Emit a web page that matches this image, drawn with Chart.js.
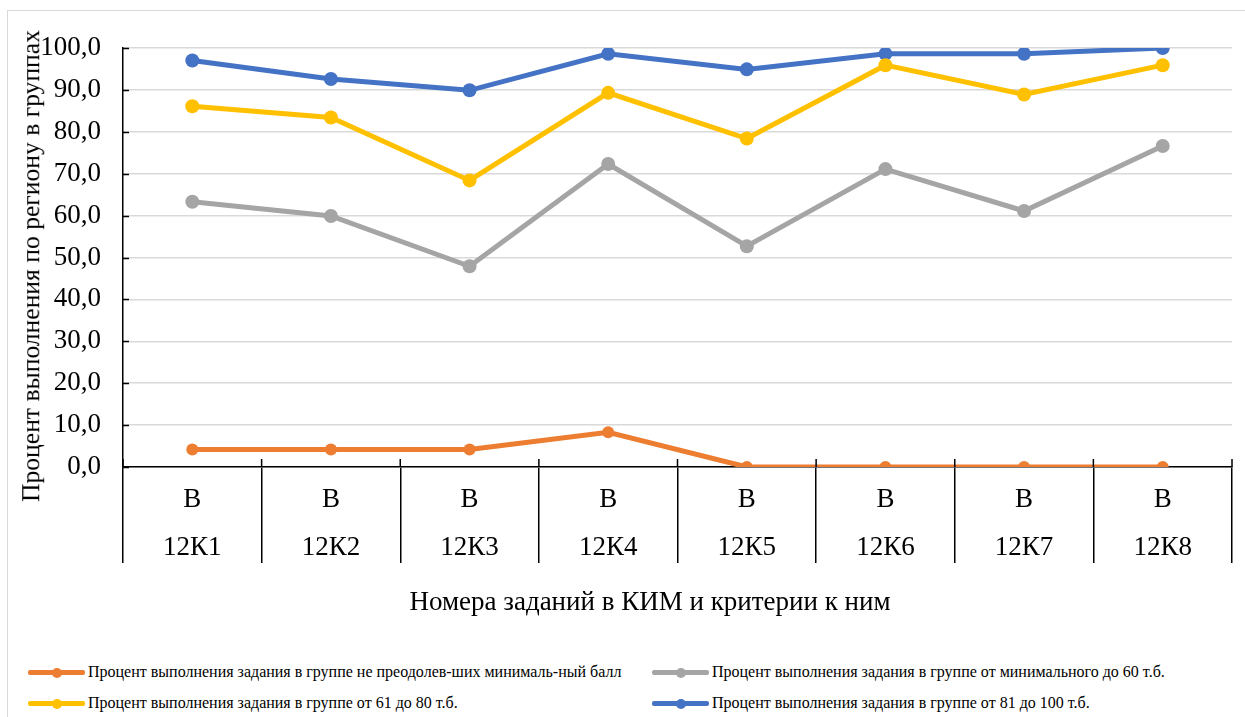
<!DOCTYPE html>
<html>
<head>
<meta charset="utf-8">
<script src="https://cdn.jsdelivr.net/npm/chart.js@4"></script>
<style>
  body { margin: 0; background: #fff; font-family: "Liberation Serif", serif; color: #000; }
  #frame { position: absolute; left: 7px; top: 10px; width: 1245px; height: 720px; border: 1px solid #d9d9d9; box-sizing: border-box; }
  #wrap { position: absolute; left: 0; top: 0; width: 1245px; height: 625px; }
  .axisTitle { position: absolute; white-space: nowrap; transform: translate(-50%, -50%); line-height: 1; }
  #xTitle { left: 650px; top: 601px; font-size: 27px; }
  #yTitle { left: 31px; top: 266px; font-size: 25.6px; transform: translate(-50%, -50%) rotate(-90deg); }
  #legend { position: absolute; left: 0; top: 660px; width: 1245px; font-size: 16px; }
  .item { position: absolute; height: 20px; line-height: 20px; white-space: nowrap; }
  .swatch { position: absolute; left: 0; top: 8px; width: 57px; height: 5px; border-radius: 2px; }
  .dot { position: absolute; left: 24px; top: -2.5px; width: 10px; height: 10px; border-radius: 50%; }
  .txt { position: absolute; left: 60px; top: 0; }
</style>
</head>
<body>
<div id="frame"></div>
<div id="wrap"><canvas id="myChart"></canvas></div>
<div id="xTitle" class="axisTitle"></div>
<div id="yTitle" class="axisTitle"></div>
<div id="legend"></div>
<script>
// categories: two lines per label
const tasks = ['12К1', '12К2', '12К3', '12К4', '12К5', '12К6', '12К7', '12К8'];
const level = ['В', 'В', 'В', 'В', 'В', 'В', 'В', 'В'];

const notPassed = [4.2, 4.2, 4.2, 8.3, 0, 0, 0, 0];
const minTo60 = [63.3, 59.9, 47.9, 72.3, 52.7, 71.1, 61.1, 76.6];
const from61to80 = [86.1, 83.4, 68.4, 89.3, 78.4, 95.9, 88.9, 95.9];
const from81to100 = [97.0, 92.6, 89.9, 98.6, 94.9, 98.6, 98.6, 100.0];

const seriesNames = [
    'Процент выполнения задания в группе не преодолев-ших минималь-ный балл',
    'Процент выполнения задания в группе от минимального до 60 т.б.',
    'Процент выполнения задания в группе от 61 до 80 т.б.',
    'Процент выполнения задания в группе от 81 до 100 т.б.'
];

const xTitleText = 'Номера заданий в КИМ и критерии к ним';
const yTitleText = 'Процент выполнения по региону в группах';

const labels = tasks.map((t, i) => [level[i], t]);

function line(label, data, color, r) {
    return {
        label: label,
        data: data,
        borderColor: color,
        backgroundColor: color,
        borderWidth: 5,
        pointRadius: r,
        pointHoverRadius: r,
        pointBorderWidth: 0,
        tension: 0
    };
}

// small inside ticks on y axis and little stubs of the category separators above the x axis
const excelMarks = {
    id: 'excelMarks',
    afterDraw(chart) {
        const c = chart.ctx;
        const x = chart.scales.x, y = chart.scales.y;
        c.save();
        c.strokeStyle = '#000';
        c.lineWidth = 1.5;
        c.beginPath();
        y.ticks.forEach(t => {
            const py = Math.round(y.getPixelForValue(t.value)) + 0.5;
            c.moveTo(x.left, py);
            c.lineTo(x.left + 6, py);
        });
        const half = (x.getPixelForValue(1) - x.getPixelForValue(0)) / 2;
        for (let i = 0; i <= tasks.length; i++) {
            const px = x.getPixelForValue(0) - half + i * half * 2;
            c.moveTo(px, y.bottom);
            c.lineTo(px, y.bottom - 8);
        }
        c.stroke();
        c.restore();
    }
};

const serif = 'Liberation Serif';

const ctx = document.getElementById('myChart');
const myChart = new Chart(ctx, {
    type: 'line',
    data: {
        labels: labels,
        datasets: [
            line(seriesNames[0], notPassed, '#ED7D31', 6),
            line(seriesNames[1], minTo60, '#A5A5A5', 7),
            line(seriesNames[2], from61to80, '#FFC000', 7),
            line(seriesNames[3], from81to100, '#4472C4', 7)
        ]
    },
    plugins: [excelMarks],
    options: {
        responsive: true,
        maintainAspectRatio: false,
        animation: false,
        layout: { padding: { left: 10, top: 48, right: 13, bottom: 4 } },
        plugins: {
            legend: { display: false },
            tooltip: { enabled: false }
        },
        scales: {
            x: {
                offset: true,
                afterFit: s => { s.height = 154; },
                grid: {
                    offset: true,
                    drawOnChartArea: false,
                    drawTicks: true,
                    tickLength: 96,
                    color: '#000',
                    lineWidth: 1.5
                },
                border: { color: '#000', width: 1.5 },
                ticks: {
                    padding: -87,
                    maxRotation: 0,
                    autoSkip: false,
                    color: '#000',
                    font: { family: serif, size: 27, lineHeight: 48 / 27 }
                }
            },
            y: {
                min: 0,
                max: 100,
                afterFit: s => { s.width = 113; },
                grid: { color: '#d9d9d9', lineWidth: 1.5, drawTicks: false },
                border: { color: '#000', width: 1.5 },
                ticks: {
                    stepSize: 10,
                    padding: 22,
                    color: '#000',
                    font: { family: serif, size: 27 },
                    callback: v => v.toFixed(1).replace('.', ',')
                }
            }
        }
    }
});

document.getElementById('xTitle').textContent = xTitleText;
document.getElementById('yTitle').textContent = yTitleText;

// legend in two columns, built from the datasets
const legendPos = [[28, 12], [652, 12], [28, 43], [652, 43]];
const legendBox = document.getElementById('legend');
myChart.data.datasets.forEach((ds, i) => {
    const it = document.createElement('div');
    it.className = 'item';
    it.style.left = legendPos[i][0] + 'px';
    it.style.top = (legendPos[i][1] - 10) + 'px';
    it.innerHTML = '<div class="swatch" style="background:' + ds.borderColor + '">' +
        '<div class="dot" style="background:' + ds.borderColor + '"></div></div>' +
        '<span class="txt"></span>';
    it.querySelector('.txt').textContent = ds.label;
    legendBox.appendChild(it);
});
</script>
</body>
</html>
